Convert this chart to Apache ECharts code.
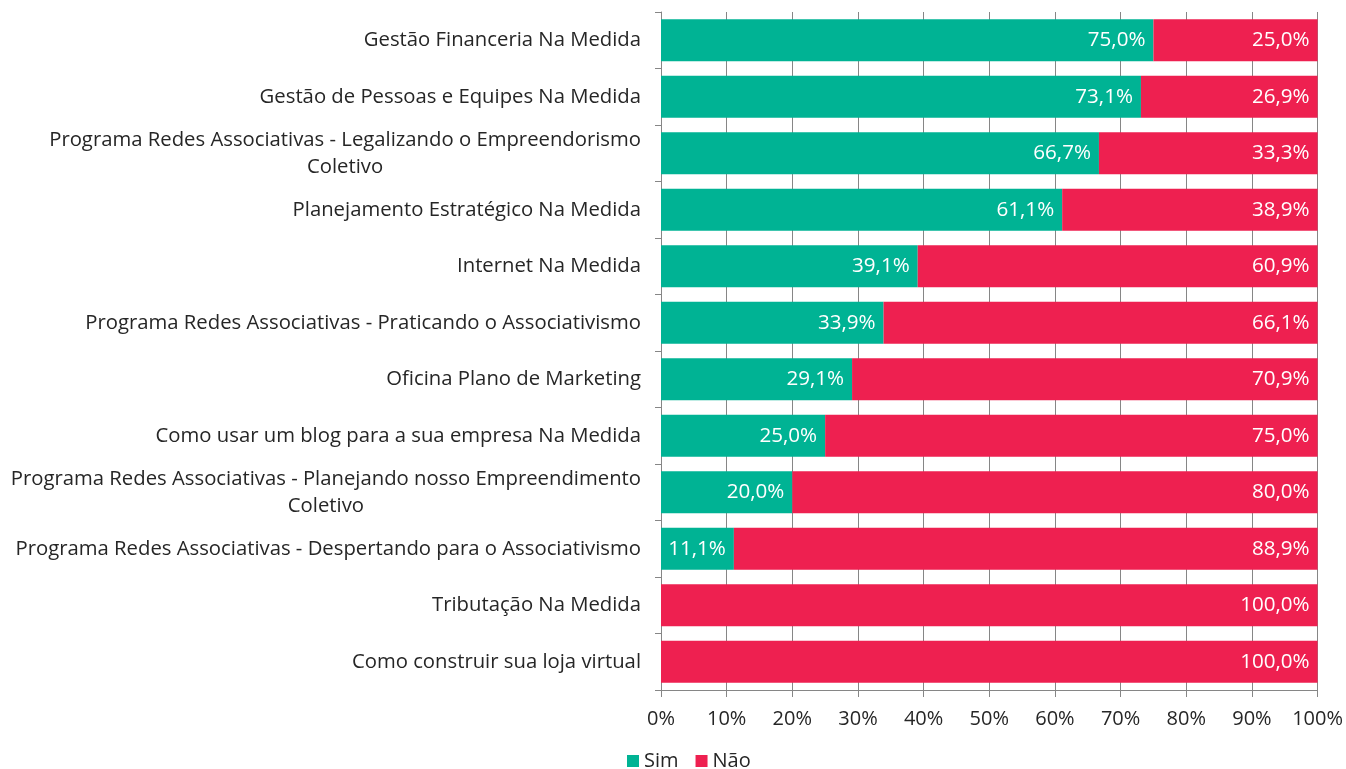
<!DOCTYPE html>
<html><head><meta charset="utf-8">
<script src="https://cdn.jsdelivr.net/npm/echarts@6/dist/echarts.min.js"></script>
<style>html,body{margin:0;padding:0;background:#fff}#c{width:1346px;height:769px}</style>
</head><body><div id="c"></div>
<script>
var categories = [
  "Gestão Financeria Na Medida",
  "Gestão de Pessoas e Equipes Na Medida",
  "Programa Redes Associativas - Legalizando o Empreendorismo\nColetivo",
  "Planejamento Estratégico Na Medida",
  "Internet Na Medida",
  "Programa Redes Associativas - Praticando o Associativismo",
  "Oficina Plano de Marketing",
  "Como usar um blog para a sua empresa Na Medida",
  "Programa Redes Associativas - Planejando nosso Empreendimento\nColetivo",
  "Programa Redes Associativas - Despertando para o Associativismo",
  "Tributação Na Medida",
  "Como construir sua loja virtual"
];
var simValues = [75.0, 73.1, 66.7, 61.1, 39.1, 33.9, 29.1, 25.0, 20.0, 11.1, 0, 0];
var naoValues = [25.0, 26.9, 33.3, 38.9, 60.9, 66.1, 70.9, 75.0, 80.0, 88.9, 100.0, 100.0];
var xTicks = [0, 10, 20, 30, 40, 50, 60, 70, 80, 90, 100];

var FONT = 'Open Sans';
var CAT_SIZE = 20.3;
function fmtPct(p) {
  return p.value > 0 ? p.value.toFixed(1).replace('.', ',') + '%' : '';
}
var chart = echarts.init(document.getElementById('c'));
chart.setOption({
  animation: false,
  textStyle: { fontFamily: FONT },
  grid: { left: 661, right: 25, top: 12, bottom: 79, containLabel: false },
  legend: {
    bottom: -7, left: 622,
    itemWidth: 12, itemHeight: 12, itemGap: 17,
    icon: 'rect',
    textStyle: { fontFamily: FONT, fontSize: 20, color: '#262626' },
    data: ['Sim', 'Não']
  },
  xAxis: {
    type: 'value', min: 0, max: 100, interval: 10,
    axisLine: { show: true, lineStyle: { color: '#868686' } },
    axisTick: { show: true, length: 7, lineStyle: { color: '#868686' } },
    splitLine: { show: true, lineStyle: { color: '#868686' } },
    axisLabel: { fontFamily: FONT, fontSize: 20, color: '#262626', margin: 19,
      formatter: function (v) { return xTicks.indexOf(v) >= 0 ? v + '%' : ''; } }
  },
  yAxis: {
    type: 'category', inverse: true, data: categories,
    axisLine: { show: true, lineStyle: { color: '#868686' } },
    axisTick: { show: true, length: 6, lineStyle: { color: '#868686' } },
    axisLabel: {
      fontFamily: FONT, fontSize: CAT_SIZE, color: '#262626', margin: 20, lineHeight: 27,
      formatter: function (v) {
        var parts = v.split('\n');
        if (parts.length === 1) return '{a|' + v + '}';
        return '{a|' + parts[0] + '}\n{c|' + parts[1] + '}';
      },
      rich: {
        a: { fontFamily: FONT, fontSize: CAT_SIZE, color: '#262626', lineHeight: 27 },
        c: { fontFamily: FONT, fontSize: CAT_SIZE, color: '#262626', lineHeight: 27, align: 'center' }
      }
    }
  },
  series: [
    { name: 'Sim', type: 'bar', stack: 't', data: simValues, barCategoryGap: '26%',
      itemStyle: { color: '#00B394' },
      label: { show: true, position: 'insideRight', distance: 8, color: '#fff', fontSize: 20.6, fontFamily: FONT, formatter: fmtPct } },
    { name: 'Não', type: 'bar', stack: 't', data: naoValues, barCategoryGap: '26%',
      itemStyle: { color: '#EE2050' },
      label: { show: true, position: 'insideRight', distance: 8, color: '#fff', fontSize: 20.6, fontFamily: FONT, formatter: fmtPct } }
  ]
});
</script></body></html>
